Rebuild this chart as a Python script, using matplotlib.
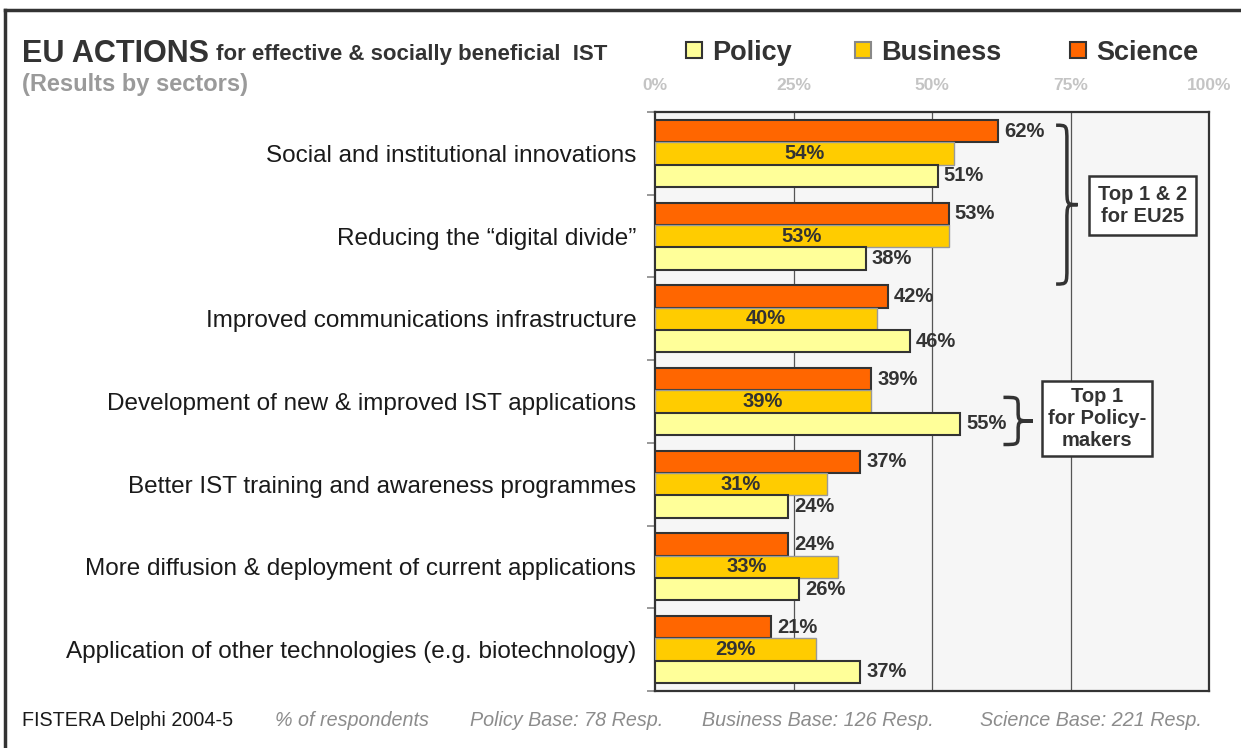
import matplotlib
matplotlib.use("Agg")
import matplotlib.pyplot as plt
from matplotlib.patches import Rectangle, PathPatch
from matplotlib.path import Path
import numpy as np

plt.rcParams['font.family'] = ['Liberation Sans', 'DejaVu Sans']

# ---- data ----
actions = ['Social and institutional innovations',
           'Reducing the \u201cdigital divide\u201d',
           'Improved communications infrastructure',
           'Development of new & improved IST applications',
           'Better IST training and awareness programmes',
           'More diffusion & deployment of current applications',
           'Application of other technologies (e.g. biotechnology)']
science = [62, 53, 42, 39, 37, 24, 21]
business = [54, 53, 40, 39, 31, 33, 29]
policy = [51, 38, 46, 55, 24, 26, 37]
ticks = [0, 25, 50, 75, 100]
tick_labels = ['0%', '25%', '50%', '75%', '100%']
sectors = ['Policy', 'Business', 'Science']
footer = ['FISTERA Delphi 2004-5', '% of respondents', 'Policy Base: 78 Resp.',
          'Business Base: 126 Resp.', 'Science Base: 221 Resp.']

col_sci = '#ff6600'
col_bus = '#ffcc00'
col_pol = '#ffff99'
dark = '#333333'

W, H = 1241, 748
fig = plt.figure(figsize=(W / 100, H / 100), dpi=100)

def fx(px):
    return px / W

def fy(py):
    return 1 - py / H

ax = fig.add_axes([fx(655), fy(691), fx(1209) - fx(655), fy(112) - fy(691)])
ax.set_facecolor('#f6f6f6')

y = np.arange(len(actions))
h = 0.27
ax.barh(y - h, science, height=h, color=col_sci, edgecolor=dark, linewidth=1.5, zorder=3)
ax.barh(y, business, height=h, color=col_bus, edgecolor='#999999', linewidth=1.0, zorder=3)
ax.barh(y + h, policy, height=h, color=col_pol, edgecolor=dark, linewidth=1.5, zorder=3)

# value labels
for i in range(len(actions)):
    ax.annotate(f'{science[i]}%', (science[i], y[i] - h), xytext=(4.5, 0), textcoords='offset points',
                va='center', ha='left', fontsize=14.5, fontweight='bold', color=dark, zorder=4)
    ax.text(business[i] / 2, y[i], f'{business[i]}%', va='center', ha='center',
            fontsize=14.5, fontweight='bold', color=dark, zorder=4)
    ax.annotate(f'{policy[i]}%', (policy[i], y[i] + h), xytext=(4.5, 0), textcoords='offset points',
                va='center', ha='left', fontsize=14.5, fontweight='bold', color=dark, zorder=4)

ax.set_xlim(0, 100)
ax.set_ylim(len(actions) - 0.5, -0.5)
for v in ticks[1:4]:
    ax.axvline(v, color='#555555', lw=0.9, zorder=1)

ax.xaxis.tick_top()
ax.set_xticks(ticks)
ax.set_xticklabels(tick_labels, fontsize=12.5, fontweight='bold', color='#c4c4c4')
ax.tick_params(axis='x', length=0, pad=14)

ax.set_yticks(y)
ax.set_yticklabels(actions, fontsize=17.5, color='#1a1a1a')
ax.set_yticks(np.arange(len(actions) + 1) - 0.5, minor=True)
ax.tick_params(axis='y', which='major', length=0, pad=13.5)
ax.tick_params(axis='y', which='minor', length=6, color='#888888', width=1.2)
for s in ax.spines.values():
    s.set_color(dark)
    s.set_linewidth(1.6)


def brace(x0, x1, y0, y1, d):
    xm = (x0 + x1) / 2
    ym = (y0 + y1) / 2
    verts = [(x0, y0), (xm, y0), (xm, y0), (xm, y0 + d),
             (xm, ym - d),
             (xm, ym), (xm, ym), (x1, ym),
             (xm, ym), (xm, ym), (xm, ym + d),
             (xm, y1 - d),
             (xm, y1), (xm, y1), (x0, y1)]
    codes = [Path.MOVETO, Path.CURVE4, Path.CURVE4, Path.CURVE4,
             Path.LINETO,
             Path.CURVE4, Path.CURVE4, Path.CURVE4,
             Path.CURVE4, Path.CURVE4, Path.CURVE4,
             Path.LINETO,
             Path.CURVE4, Path.CURVE4, Path.CURVE4]
    ax.add_patch(PathPatch(Path(verts, codes), fill=False, edgecolor=dark, lw=2.5,
                           transform=ax.transData, zorder=5, clip_on=False))

brace(72.4, 76.3, -0.34, 1.58, 0.2)
brace(62.9, 68.2, 2.95, 3.52, 0.12)

ax.text(88.0, 0.63, 'Top 1 & 2\nfor EU25', ha='center', va='center', fontsize=14.5,
        fontweight='bold', color=dark, linespacing=1.2, zorder=6,
        bbox=dict(boxstyle='square,pad=0.45', facecolor='white', edgecolor=dark, lw=1.8))
ax.text(79.8, 3.2, 'Top 1\nfor Policy-\nmakers', ha='center', va='center', fontsize=14.5,
        fontweight='bold', color=dark, linespacing=1.2, zorder=6,
        bbox=dict(boxstyle='square,pad=0.3', facecolor='white', edgecolor=dark, lw=1.8))

# outer frame
fig.add_artist(plt.Line2D([fx(5), 1.0], [fy(10), fy(10)], color=dark, lw=2.5))
fig.add_artist(plt.Line2D([fx(5), fx(5)], [fy(10), 0], color=dark, lw=2.5))

# title block
fig.text(fx(22), fy(62), 'EU ACTIONS', fontsize=22, fontweight='bold', color=dark, va='baseline')
fig.text(fx(216), fy(60), 'for effective & socially beneficial  IST', fontsize=16,
         fontweight='bold', color=dark, va='baseline')
fig.text(fx(22), fy(91), '(Results by sectors)', fontsize=17, fontweight='bold',
         color='#9a9a9a', va='baseline')

# legend
leg_sq = [686, 855, 1070]
leg_cols = [col_pol, col_bus, col_sci]
leg_edges = [dark, '#888888', dark]
for name, px, c, e in zip(sectors, leg_sq, leg_cols, leg_edges):
    fig.add_artist(Rectangle((fx(px), fy(58)), fx(16), 16 / H, facecolor=c, edgecolor=e, lw=1.5))
    fig.text(fx(px + 26), fy(60), name, fontsize=19.5, fontweight='bold', color=dark, va='baseline')

# footer
foot_x = [22, 275, 470, 702, 980]
for i, (t, px) in enumerate(zip(footer, foot_x)):
    fig.text(fx(px), fy(726), t, fontsize=14.2, va='baseline',
             color='#1a1a1a' if i == 0 else '#8c8c8c', style='normal' if i == 0 else 'italic')

fig.savefig('out.png', dpi=100)
